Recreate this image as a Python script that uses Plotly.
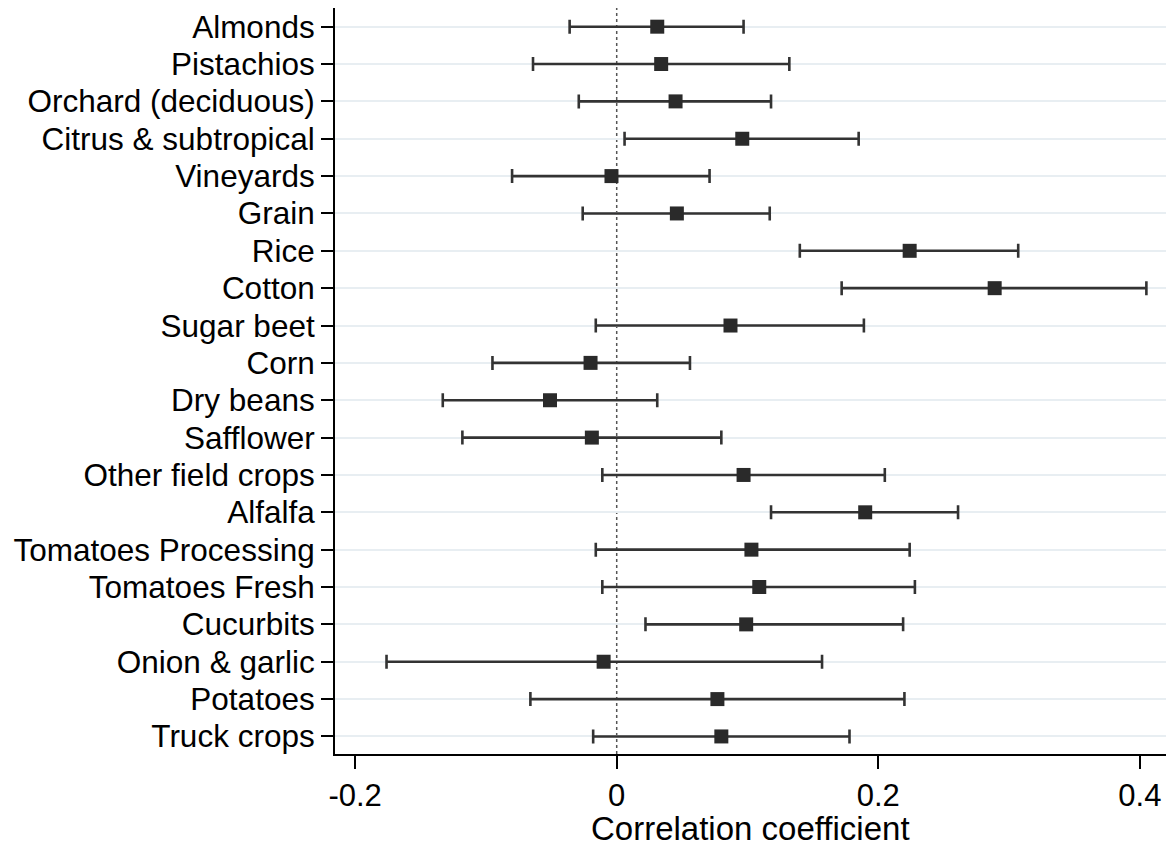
import plotly.graph_objects as go

# Crop categories, point estimates and 95% confidence bounds
crops = [
    "Almonds", "Pistachios", "Orchard (deciduous)", "Citrus & subtropical",
    "Vineyards", "Grain", "Rice", "Cotton", "Sugar beet", "Corn",
    "Dry beans", "Safflower", "Other field crops", "Alfalfa",
    "Tomatoes Processing", "Tomatoes Fresh", "Cucurbits", "Onion & garlic",
    "Potatoes", "Truck crops",
]
coef = [0.031, 0.034, 0.045, 0.096, -0.004, 0.046, 0.224, 0.289, 0.087, -0.020,
        -0.051, -0.019, 0.097, 0.190, 0.103, 0.109, 0.099, -0.010, 0.077, 0.080]
lower = [-0.036, -0.064, -0.029, 0.006, -0.080, -0.026, 0.140, 0.172, -0.016, -0.095,
         -0.133, -0.118, -0.011, 0.118, -0.016, -0.011, 0.022, -0.176, -0.066, -0.018]
upper = [0.097, 0.132, 0.118, 0.185, 0.071, 0.117, 0.307, 0.405, 0.189, 0.056,
         0.031, 0.080, 0.205, 0.261, 0.224, 0.228, 0.219, 0.157, 0.220, 0.178]

x_ticks = [-0.2, 0, 0.2, 0.4]
x_tick_labels = ["-0.2", "0", "0.2", "0.4"]
x_title = "Correlation coefficient"

rows = list(range(len(crops)))
err_plus = [u - c for u, c in zip(upper, coef)]
err_minus = [c - l for c, l in zip(coef, lower)]

fig = go.Figure()
fig.add_trace(go.Scatter(
    x=coef, y=rows, mode="markers",
    marker=dict(symbol="square", size=14, color="#2a2a2a"),
    error_x=dict(type="data", symmetric=False, array=err_plus, arrayminus=err_minus,
                 color="#333333", thickness=2.6, width=7),
    showlegend=False,
))

fig.add_vline(x=0, line=dict(color="#555555", width=1.5, dash="dot"), layer="below")

# axis title placed as an annotation centred under the plot area
fig.add_annotation(
    text=x_title, xref="paper", yref="paper", x=0.5, y=-0.1005,
    xanchor="center", yanchor="middle", showarrow=False,
    font=dict(size=33), borderpad=0,
)

font = "Liberation Sans, Arial, sans-serif"
fig.update_layout(
    width=1174, height=846,
    margin=dict(l=335, r=8, t=8, b=92),
    paper_bgcolor="white", plot_bgcolor="white",
    font=dict(family=font, size=31, color="black"),
    xaxis=dict(
        range=[-0.2154, 0.42], tickvals=x_ticks, ticktext=x_tick_labels,
        showgrid=False, zeroline=False, showline=True, linecolor="black", linewidth=2,
        ticks="outside", ticklen=13, tickwidth=2, tickcolor="black",
        tickfont=dict(size=31), automargin=False,
    ),
    yaxis=dict(
        range=[19.47, -0.5], tickvals=rows, ticktext=crops,
        showgrid=True, gridcolor="#e8eef2", gridwidth=2, zeroline=False,
        showline=True, linecolor="black", linewidth=2,
        ticks="outside", ticklen=12, tickwidth=2, tickcolor="black",
        tickfont=dict(size=31.5), automargin=False,
    ),
)

fig.write_html("out.html")
